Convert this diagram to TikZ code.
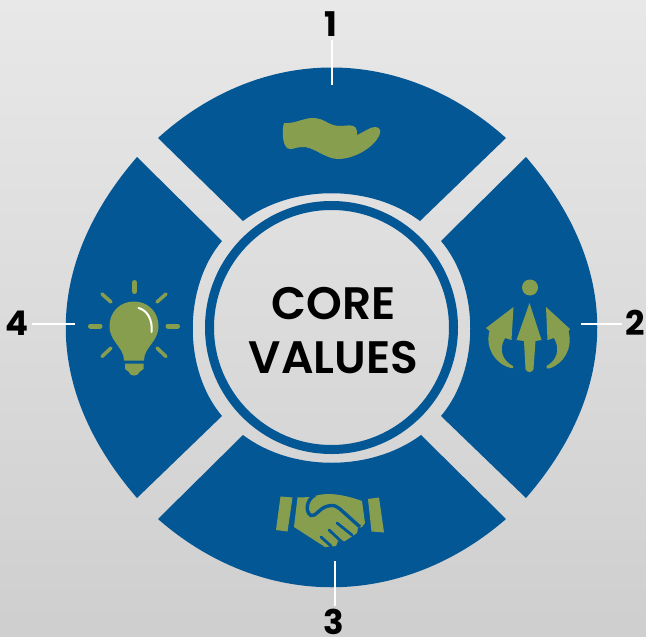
\documentclass[tikz,border=0pt]{standalone}
\usepackage{fontspec}
\setmainfont{Poppins}
\newfontfamily\corefont{Poppins SemiBold}
\usepackage{xcolor}
\definecolor{ringblue}{HTML}{045795}
\definecolor{icongreen}{HTML}{879E4F}
\tikzset{
    numlabel/.style={font=\fontsize{34}{34}\selectfont\bfseries,text=black,inner sep=3pt},
    tickline/.style={draw=white,line width=2.8pt},
    segment/.style={fill=ringblue},
    icon/.style={fill=icongreen},
    ray/.style={draw=icongreen,line cap=round}
}
\begin{document}
\begin{tikzpicture}[x=1pt,y=-1pt]
    % background
    \shade[top color=black!9,bottom color=black!19] (0,0) rectangle (646,637);
    \useasboundingbox (0,0) rectangle (646,637);

    % four segments
    \fill[segment] (158,138) .. controls (262,44) and (401,44) .. (506,138)
                   -- (420,221) .. controls (371,184) and (292,184) .. (243,221) -- cycle;
    \fill[segment] (526,157) .. controls (621,267) and (621,388) .. (526,498)
                   -- (441,416) .. controls (480,370) and (480,287) .. (441,241) -- cycle;
    \fill[segment] (158,519) .. controls (262,610) and (401,610) .. (506,519)
                   -- (421,435) .. controls (371,472) and (292,472) .. (243,435) -- cycle;
    \fill[segment] (137,157) .. controls (42,267) and (42,388) .. (137,498)
                   -- (222,416) .. controls (183,370) and (183,287) .. (222,241) -- cycle;

    % centre ring
    \draw[ringblue,line width=9pt] (331.5,327.5) circle (122);
    \node[font=\fontsize{45.5}{54}\selectfont\corefont,align=center,inner sep=0pt] (core) at (333.5,331) {CORE\\VALUES};

    % numbers and ticks
    \node[numlabel] (num1) at (331,24) {1};
    \node[numlabel] (num2) at (635,323) {2};
    \node[numlabel] (num3) at (334,621.5) {3};
    \node[numlabel] (num4) at (17,323) {4};
    \coordinate (tick1) at (332,85);
    \coordinate (tick2) at (581,324);
    \coordinate (tick3) at (335,561);
    \coordinate (tick4) at (75,324);
    \draw[tickline] (num1.south -| tick1) -- (tick1);
    \draw[tickline] (num2.west |- tick2) -- (tick2);
    \draw[tickline] (num3.north -| tick3) -- (tick3);
    \draw[tickline] (num4.east |- tick4) -- (tick4);

    % hand
    \fill[icon] (284,123) .. controls (295,124) and (303,118) .. (313,118)
                .. controls (325,118) and (328,126) .. (340,126)
                .. controls (348,126) and (358,122) .. (357,135)
                .. controls (364,132) and (370,127) .. (375,127)
                .. controls (381,127) and (381,132) .. (379,136)
                .. controls (373,148) and (354,159) .. (338,159)
                .. controls (325,159) and (313,146) .. (302,147)
                .. controls (295,147) and (291,151) .. (287,148)
                .. controls (282,143) and (282,130) .. (284,123) -- cycle;

    % person with arrows
    \fill[icon] (530,287.5) circle (8);
    \fill[icon] (529.5,303) -- (541.5,340) -- (535.5,341) -- (533.5,369)
                .. controls (533,373) and (526,373) .. (525.5,369)
                -- (524,341) -- (516.5,340) -- cycle;
    \fill[icon] (513.5,307) -- (511.5,340) -- (505,338)
                .. controls (498,350) and (503,361) .. (513,366)
                .. controls (514,368) and (513,369) .. (511,368)
                .. controls (495,364) and (485,348) .. (489.5,331)
                -- (486,328) -- cycle;
    \fill[icon] (546,307) -- (547.5,340) -- (554,338)
                .. controls (561,350) and (556,361) .. (546.5,366)
                .. controls (545.5,368) and (547,369.5) .. (549,368.5)
                .. controls (564,364) and (573,348) .. (568.5,331.5)
                -- (570,329) -- cycle;

    % handshake
    \fill[icon] (280.5,496.5) -- (292.5,497.5) -- (287.5,531.5) -- (276,530) -- cycle;
    \fill[icon] (368,499) -- (379,497.5) -- (384,532.5) -- (371.5,531.5) -- cycle;
    \fill[icon] (297.5,497.5) -- (312,497)
                .. controls (322,493) and (337,492) .. (362,501)
                -- (365,523) -- (362,527) -- (358,528) -- (357,533) -- (351,537)
                -- (345,541) -- (338,541) -- (336,546) -- (325,547)
                -- (294,527) -- cycle;
    \draw[ringblue,line width=3.4pt] (315,495)
                .. controls (306,500) and (305,512) .. (311,515.5)
                .. controls (316,517) and (319,508) .. (328,506)
                .. controls (334,505) and (334,505) .. (340,509) -- (360,527);
    \draw[ringblue,line width=2.8pt,line cap=round] (337,523) -- (352,535);
    \draw[ringblue,line width=2.8pt,line cap=round] (329,530) -- (343,543);
    \draw[ringblue,line width=2.8pt,line cap=round] (321,537) -- (331,546);

    % light bulb
    \fill[icon] (124,360.5) .. controls (124,347) and (109.5,342) .. (109.5,326)
                .. controls (109.5,312) and (120,301.5) .. (134,301.5)
                .. controls (148,301.5) and (158.5,312) .. (158.5,326)
                .. controls (158.5,342) and (144,347) .. (144,360.5) -- cycle;
    \fill[icon] (125,363.5) -- (143.5,363.5) -- (143.5,369) -- (140,371.5)
                .. controls (138,377) and (130,377) .. (128.5,371.5)
                -- (125,369) -- cycle;
    \draw[white,line width=2pt,line cap=round] (138.5,308)
                .. controls (147,310) and (153,320) .. (151.5,332);
    \draw[ray,line width=5pt] (134.5,282.5) -- (134.5,291.5);
    \draw[ray,line width=5pt] (90.5,326) -- (100,326);
    \draw[ray,line width=5pt] (168,326) -- (177.5,326);
    \draw[ray,line width=3.5pt] (102,294) -- (111,302);
    \draw[ray,line width=3.5pt] (166,294) -- (157,302);
    \draw[ray,line width=3.5pt] (111,348) -- (102,356.5);
    \draw[ray,line width=3.5pt] (157,348) -- (166,356.5);
\end{tikzpicture}
\end{document}
